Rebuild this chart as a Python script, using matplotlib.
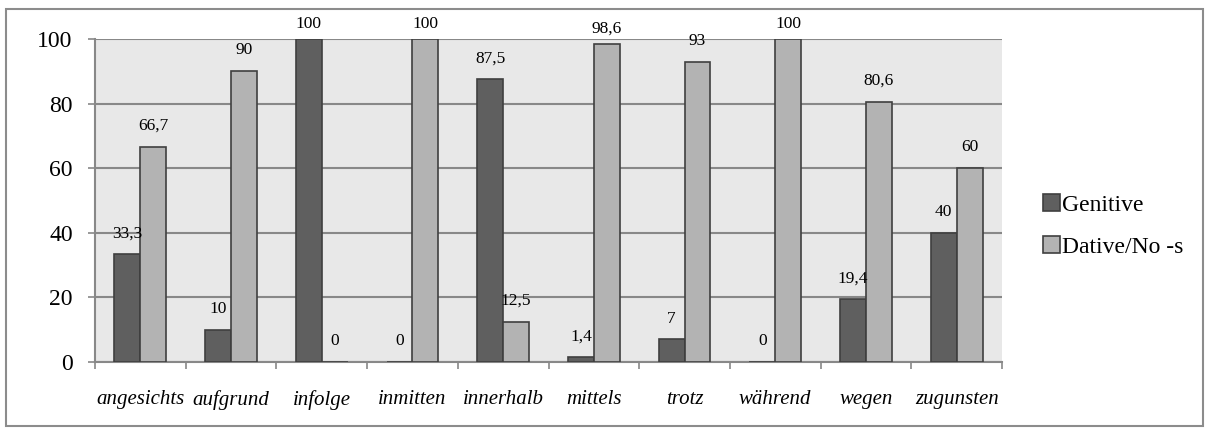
import numpy as np
import matplotlib.pyplot as plt
from matplotlib.patches import Rectangle

categories = ["angesichts", "aufgrund", "infolge", "inmitten", "innerhalb",
              "mittels", "trotz", "während", "wegen", "zugunsten"]
genitive = [33.3, 10, 100, 0, 87.5, 1.4, 7, 0, 19.4, 40]
dative = [66.7, 90, 0, 100, 12.5, 98.6, 93, 100, 80.6, 60]

plt.rcParams['font.family'] = ['Liberation Serif', 'DejaVu Serif']

fig = plt.figure(figsize=(12.09, 4.32), dpi=100)
ax = fig.add_axes([95 / 1209, 1 - 362 / 432, 907 / 1209, 323 / 432])

# rahmen um das ganze diagramm
fig.patches.append(Rectangle((6 / 1209, 1 - 426 / 432), 1197 / 1209, 417 / 432,
                             transform=fig.transFigure, fill=False,
                             edgecolor='#8c8c8c', linewidth=1.5))

x = np.arange(len(categories)) + 0.5
w = 1 / 3.5
dark = '#5f5f5f'
light = '#b3b3b3'
edge = '#3f3f3f'

b1 = ax.bar(x - w / 2, genitive, w, color=dark, edgecolor=edge, linewidth=1.2,
            label='Genitive', zorder=3)
b2 = ax.bar(x + w / 2, dative, w, color=light, edgecolor=edge, linewidth=1.2,
            label='Dative/No -s', zorder=3)

def fmt(v):
    return f"{v:g}".replace('.', ',')

for bars, vals in [(b1, genitive), (b2, dative)]:
    for rect, v in zip(bars, vals):
        # oben am rand etwas näher an den balken
        off = 11 if v >= 98 else 15
        ax.annotate(fmt(v), (rect.get_x() + rect.get_width() / 2, v),
                    xytext=(0, off), textcoords='offset points',
                    ha='center', va='center', fontsize=12.5, annotation_clip=False)

ax.set_facecolor('#e8e8e8')
ax.set_xlim(0, len(categories))
ax.set_ylim(0, 100)
ax.set_yticks([0, 20, 40, 60, 80, 100])
ax.yaxis.grid(True, color='#888888', linewidth=1.5, zorder=0)
ax.set_axisbelow(True)
ax.tick_params(axis='y', labelsize=17, length=5, width=1.2, color='#888888', pad=11)

ax.set_xticks(x)
ax.set_xticklabels(categories, fontsize=15, style='italic')
ax.set_xticks(np.arange(len(categories) + 1), minor=True)
ax.tick_params(axis='x', which='major', length=0, pad=20)
ax.tick_params(axis='x', which='minor', length=5, width=1.2, color='#888888')

for s in ['top', 'right']:
    ax.spines[s].set_visible(False)
for s in ['left', 'bottom']:
    ax.spines[s].set_color('#888888')
    ax.spines[s].set_linewidth(1.5)

fig.legend(loc='center left', bbox_to_anchor=(1022 / 1209, 1 - 226 / 432),
           frameon=False, fontsize=17, handlelength=0.7, handleheight=0.7,
           handletextpad=0.1, labelspacing=0.85)

fig.savefig("out.png", dpi=100)
